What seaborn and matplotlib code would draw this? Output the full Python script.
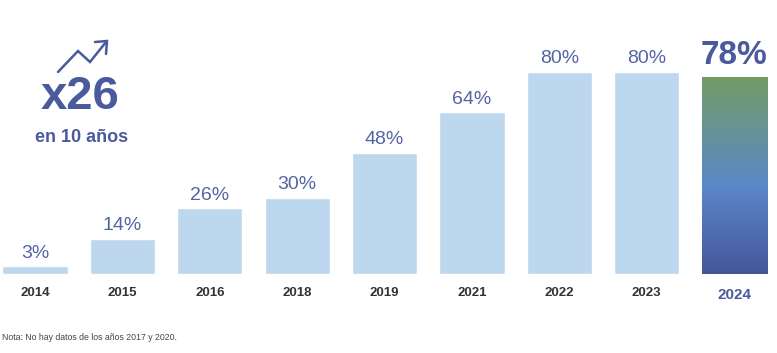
import numpy as np
import pandas as pd
import matplotlib
matplotlib.use("Agg")
import matplotlib.pyplot as plt
import seaborn as sns
from matplotlib.colors import LinearSegmentedColormap
from matplotlib.lines import Line2D

years = ["2014", "2015", "2016", "2018", "2019", "2021", "2022", "2023", "2024"]
values = [3, 14, 26, 30, 48, 64, 80, 80, 78]
labels = ["3%", "14%", "26%", "30%", "48%", "64%", "80%", "80%", "78%"]

sns.set_theme(style="white")
plt.rcParams['font.family'] = ['Liberation Sans', 'DejaVu Sans']

fig = plt.figure(figsize=(7.77, 3.53), dpi=100)
ax = fig.add_axes([0, 0, 1, 1])
df = pd.DataFrame({"year": years, "value": values})
sns.barplot(data=df, x="year", y="value", color="#BDD7EE", width=0.745,
            saturation=1, ax=ax)
ax.axis("off")

bars = ax.patches
# gradient for last bar
last = bars[-1]
last.set_facecolor("none")
x0 = last.get_x(); w = last.get_width(); h = last.get_height()
cmap = LinearSegmentedColormap.from_list("g", [(0, "#45559a"), (0.45, "#5b88c9"), (1, "#729c66")])
grad = np.linspace(0, 1, 256).reshape(-1, 1)
im = ax.imshow(grad, cmap=cmap, origin="lower", aspect="auto",
               extent=[x0, x0 + w, 0, h], zorder=3)
im.set_clip_path(last)
ax.set_xlim(-0.40, 8.49)
ax.set_ylim(-31.3, 108.5)

for i, (v, lab) in enumerate(zip(values, labels)):
    if i == len(values) - 1:
        ax.text(i, v + 2.2, lab, ha="center", va="bottom", fontsize=24,
                fontweight="bold", color="#4a5a9c")
        ax.text(i, -8.3, years[i], ha="center", va="center", fontsize=11,
                fontweight="bold", color="#4a5a9c")
    else:
        ax.text(i, v + 1.9, lab, ha="center", va="bottom", fontsize=14,
                color="#5364a5")
        ax.text(i, -7.6, years[i], ha="center", va="center", fontsize=9.5,
                fontweight="bold", color="#333333")

fig.text(80 / 777, 1 - 97 / 353, "x26", ha="center", va="center",
         fontsize=34, fontweight="bold", color="#4a5a9c")
fig.text(82 / 777, 1 - 137 / 353, "en 10 años", ha="center", va="center",
         fontsize=13, fontweight="bold", color="#4a5a9c")
fig.text(0.002, 1 - 337 / 353, "Nota: No hay datos de los años 2017 y 2020.",
         ha="left", va="center", fontsize=6.3, color="#444444")

# arrow icon
px = [58, 78, 90, 106]
py = [72, 51, 62, 42]
fig.add_artist(Line2D([p / 777 for p in px], [1 - q / 353 for q in py],
                      color="#4a5a9c", lw=1.8, transform=fig.transFigure,
                      solid_joinstyle="miter"))
fig.add_artist(Line2D([95 / 777, 107 / 777, 106 / 777], [1 - 42 / 353, 1 - 41 / 353, 1 - 54 / 353],
                      color="#4a5a9c", lw=1.8, transform=fig.transFigure,
                      solid_joinstyle="miter"))

fig.savefig("out.png", dpi=100)
